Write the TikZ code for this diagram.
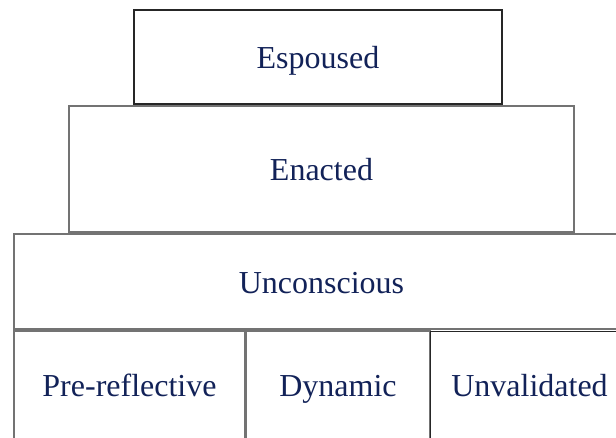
\documentclass[tikz,border=0pt]{standalone}
\usepackage{fontspec}
\setmainfont{Liberation Serif}
\usepackage{tikz}
\definecolor{inknavy}{RGB}{18,34,88}
\tikzset{
	layer/.style={draw=black!55, rectangle, inner sep=0pt, line width=1.2pt, text=inknavy, text height=23pt, text depth=0pt, font=\fontsize{32}{38}\selectfont},
}

\begin{document}
\begin{tikzpicture}[x=1pt, y=-1pt]
		%%%%% START %%%%%
		
		\clip (0, 0) rectangle (616, 437);
		
		\node[layer, draw=black!85, minimum width=368, minimum height=94] (espoused) at (318, 57) {Espoused};
		\node[layer, minimum width=505, minimum height=126] (enacted) at (321.5, 169) {Enacted};
		\node[layer, minimum width=615, minimum height=95] (unconscious) at (321.5, 281.5) {Unconscious};
		
		\node[layer, minimum width=231, minimum height=108] (prereflective) at (129.5, 385) {Pre-reflective};
		\node[layer, minimum width=184, minimum height=108] (dynamic) at (338, 385) {Dynamic};
		\node[layer, draw=black!85, line width=0.9pt, minimum width=199, minimum height=108] (unvalidated) at (529.5, 385) {Unvalidated};
		
		%%%%% END %%%%%
	\end{tikzpicture}
\end{document}
